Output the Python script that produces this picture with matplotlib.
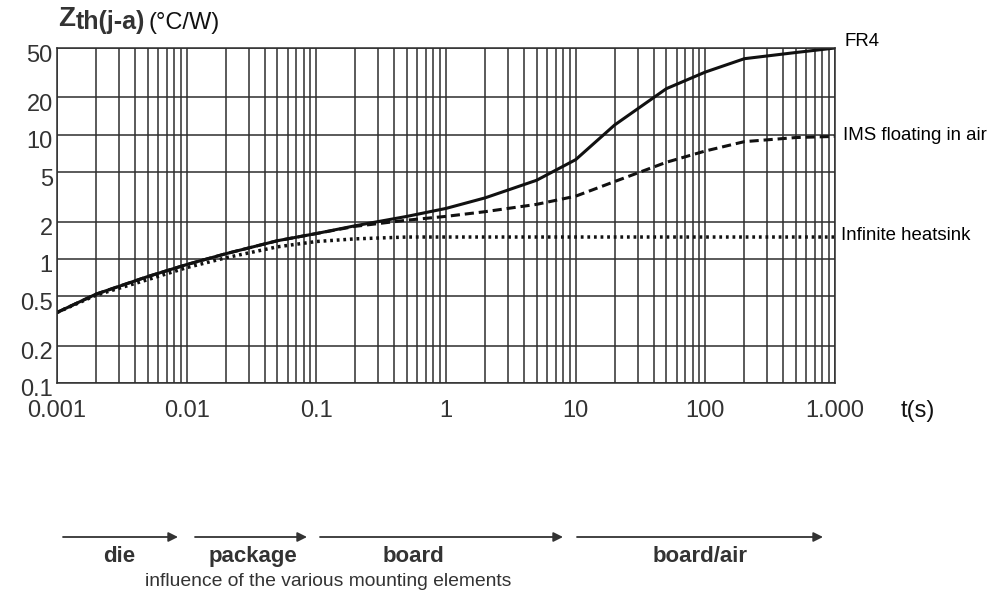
import numpy as np
import matplotlib
matplotlib.use("Agg")
import matplotlib.pyplot as plt
import matplotlib.transforms as mtransforms
from matplotlib.ticker import FixedLocator, NullFormatter

plt.rcParams['font.family'] = ['Liberation Sans', 'DejaVu Sans']

# time axis (s)
t_fr4 = [0.001, 0.002, 0.005, 0.01, 0.02, 0.05, 0.1, 0.2, 0.5, 1, 2, 5, 10, 20, 50, 100, 200, 500, 1000]
z_fr4 = [0.37, 0.52, 0.72, 0.9, 1.1, 1.4, 1.6, 1.85, 2.2, 2.55, 3.1, 4.3, 6.3, 12.0, 23.5, 32, 41, 46, 50]

t_ims = [0.001, 0.002, 0.005, 0.01, 0.02, 0.05, 0.1, 0.2, 0.5, 1, 2, 5, 10, 20, 50, 100, 200, 500, 1000]
z_ims = [0.37, 0.52, 0.72, 0.9, 1.1, 1.4, 1.6, 1.83, 2.05, 2.2, 2.4, 2.75, 3.2, 4.2, 6.0, 7.4, 8.8, 9.5, 9.7]

t_inf = [0.001, 0.002, 0.005, 0.01, 0.02, 0.05, 0.1, 0.2, 0.5, 1, 10, 100, 1000]
z_inf = [0.37, 0.51, 0.68, 0.85, 1.02, 1.25, 1.38, 1.45, 1.5, 1.5, 1.5, 1.5, 1.5]

x_ticks = [0.001, 0.01, 0.1, 1, 10, 100, 1000]
x_labels = ['0.001', '0.01', '0.1', '1', '10', '100', '1.000']
y_ticks = [0.1, 0.2, 0.5, 1, 2, 5, 10, 20, 50]
y_labels = ['0.1', '0.2', '0.5', '1', '2', '5', '10', '20', '50']

curve_names = ['FR4', 'IMS floating in air', 'Infinite heatsink']
zones = ['die', 'package', 'board', 'board/air']

W, H = 1000, 606
fig = plt.figure(figsize=(10, 6.06), dpi=100)
ax = fig.add_axes([57 / W, 1 - 383 / H, 778 / W, 335 / H])
ax.set_xscale('log')
ax.set_yscale('log')
ax.set_xlim(0.001, 1000)
ax.set_ylim(0.1, 50)

grid_c = '#2e2e2e'
lab_c = '#333333'
minor_x = [m * 10.0 ** e for e in range(-3, 3) for m in range(2, 10)]
ax.xaxis.set_major_locator(FixedLocator(x_ticks))
ax.xaxis.set_minor_locator(FixedLocator(minor_x))
ax.xaxis.set_minor_formatter(NullFormatter())
ax.set_xticklabels(x_labels)
ax.yaxis.set_major_locator(FixedLocator(y_ticks))
ax.yaxis.set_minor_locator(FixedLocator([]))
ax.set_yticklabels(y_labels)
ax.grid(True, which='major', axis='both', color=grid_c, lw=1.1)
ax.grid(True, which='minor', axis='x', color=grid_c, lw=1.1)
ax.tick_params(which='both', length=0, labelsize=17, labelcolor=lab_c)
ax.tick_params(axis='x', pad=12)
ax.tick_params(axis='y', pad=3)
for s in ax.spines.values():
    s.set_color(grid_c)
    s.set_linewidth(1.1)

# y labels sit a little below their grid lines
for lab in ax.get_yticklabels():
    dy = -5
    lab.set_transform(lab.get_transform() + mtransforms.ScaledTranslation(0, dy / 100, fig.dpi_scale_trans))

ax.plot(t_fr4, z_fr4, color='#111111', lw=2.2, ls='-', solid_capstyle='round')
ax.plot(t_ims, z_ims, color='#111111', lw=2.2, ls=(0, (3, 1.6)))
ax.plot(t_inf, z_inf, color='#111111', lw=2.5, ls=(0, (0.8, 1.1)))

# curve names on the right
fig.text(844 / W, 1 - 42 / H, curve_names[0], fontsize=13.4, va='center')
fig.text(843 / W, 1 - 135 / H, curve_names[1], fontsize=13.4, va='center')
fig.text(841 / W, 1 - 235 / H, curve_names[2], fontsize=13.4, va='center')

# axis titles
zt = fig.text(58 / W, 1 - 26 / H, 'Z', fontsize=20, fontweight='bold', color=lab_c, va='baseline')
tht = fig.text(76 / W, 1 - 29 / H, 'th(j-a)', fontsize=18, fontweight='bold', color=lab_c, va='baseline')
ax.annotate('(°C/W)', xy=(1, 0), xycoords=tht, xytext=(2, 0), textcoords='offset points',
            fontsize=17, color='#111111', ha='left', va='bottom', annotation_clip=False)
fig.text(918 / W, 1 - 411 / H, 't(s)', fontsize=17, color='#111111', ha='center', va='center')

# mounting element arrows
arrow_x = [(63, 178), (195, 307), (320, 563), (577, 823)]
label_x = [119, 253, 413, 700]
for (x0, x1), lx, name in zip(arrow_x, label_x, zones):
    fig.add_artist(plt.Annotation('', xy=(x1, H - 537), xytext=(x0, H - 537),
                                  xycoords='figure pixels', textcoords='figure pixels',
                                  arrowprops=dict(arrowstyle='-|>', lw=1.3, color=lab_c,
                                                  mutation_scale=14, shrinkA=0, shrinkB=0)))
    fig.text(lx / W, 1 - 562 / H, name, fontsize=16, fontweight='bold', color=lab_c,
             ha='center', va='baseline')
fig.text(145 / W, 1 - 586 / H, 'influence of the various mounting elements', fontsize=13.9,
         color=lab_c, va='baseline')

fig.savefig('out.png', dpi=100)
